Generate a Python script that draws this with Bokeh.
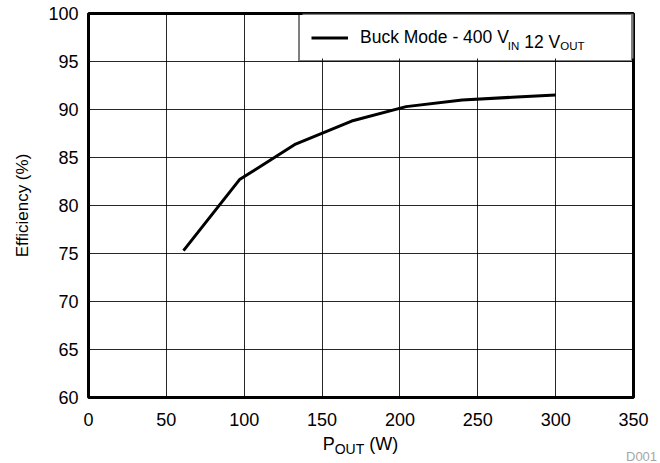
from bokeh.plotting import figure
from bokeh.models import (Legend, LegendItem, Label, Range1d, FixedTicker,
                          BoxAnnotation, Div)
from bokeh.layouts import column
from bokeh.embed import file_html
from bokeh.resources import INLINE

# ---- data ----
power_w = [61, 97, 133, 169, 204, 240, 275, 300]
efficiency_pct = [75.3, 82.7, 86.4, 88.8, 90.3, 91.0, 91.3, 91.5]
x_ticks = [0, 50, 100, 150, 200, 250, 300, 350]
y_ticks = [60, 65, 70, 75, 80, 85, 90, 95, 100]
series_main = "Buck Mode - 400 V"
series_sub1 = "IN"
series_mid = " 12 V"
series_sub2 = "OUT"
x_label_main = "P"
x_label_sub = "OUT"
x_label_tail = " (W)"
y_label = "Efficiency (%)"
doc_id = "D001"

FONT = "Liberation Sans"
# Arial / Liberation Sans advance widths (per 1000 em)
ADV = {"B": 667, "u": 556, "c": 500, "k": 500, " ": 278, "M": 833, "o": 556,
       "d": 556, "e": 556, "-": 333, "4": 556, "0": 556, "V": 667, "I": 278,
       "N": 722, "1": 556, "2": 556, "O": 778, "U": 722, "T": 611, "P": 667,
       "(": 333, "W": 944, ")": 333}


def tw(s, size):
    return sum(ADV.get(ch, 556) for ch in s) * size / 1000.0


W, H_FIG, H_DIV = 660, 433, 30
B_LEFT, B_RIGHT, B_TOP, B_BOTTOM = 88, 27, 13, 36
FRAME_W = W - B_LEFT - B_RIGHT
FRAME_H = H_FIG - B_TOP - B_BOTTOM

p = figure(width=W, height=H_FIG, output_backend="svg", toolbar_location=None,
           x_range=Range1d(x_ticks[0], x_ticks[-1]),
           y_range=Range1d(y_ticks[0], y_ticks[-1]),
           min_border_left=B_LEFT, min_border_right=B_RIGHT,
           min_border_top=B_TOP, min_border_bottom=B_BOTTOM)
p.background_fill_color = "white"
p.border_fill_color = "white"
p.outline_line_color = "black"
p.outline_line_width = 3

for ax in (p.xaxis[0], p.yaxis[0]):
    ax.axis_line_color = None
    ax.major_tick_line_color = None
    ax.minor_tick_line_color = None
    ax.major_tick_out = 0
    ax.major_tick_in = 0
    ax.minor_tick_out = 0
    ax.minor_tick_in = 0
    ax.major_label_text_font = FONT
    ax.major_label_text_font_size = "18px"
    ax.major_label_text_color = "black"

p.xaxis[0].ticker = FixedTicker(ticks=x_ticks)
p.yaxis[0].ticker = FixedTicker(ticks=y_ticks)
p.xaxis[0].major_label_standoff = 15
p.yaxis[0].major_label_standoff = 10
p.yaxis[0].axis_label = y_label
p.yaxis[0].axis_label_text_font = FONT
p.yaxis[0].axis_label_text_font_size = "17px"
p.yaxis[0].axis_label_text_font_style = "normal"
p.yaxis[0].axis_label_text_color = "black"
p.yaxis[0].axis_label_standoff = 13

p.xgrid.ticker = FixedTicker(ticks=x_ticks)
p.ygrid.ticker = FixedTicker(ticks=y_ticks)
p.xgrid.grid_line_color = "black"
p.ygrid.grid_line_color = "black"
p.xgrid.grid_line_alpha = 0.85
p.ygrid.grid_line_alpha = 0.85
p.xgrid.grid_line_width = 1
p.ygrid.grid_line_width = 1

r = p.line(power_w, efficiency_pct, line_color="black", line_width=3)

# ---- legend ----
LEG_PAD = 11
GLYPH_W = 37
STANDOFF = 12
LABEL_W = 260
ITEM_H = 23
LEG_FS = 17.5
SUB_FS = 11.5
SUB_NUDGE = -3.5
leg_w = 2 * LEG_PAD + GLYPH_W + STANDOFF + LABEL_W
leg_h = 2 * LEG_PAD + ITEM_H

# white background of the legend box (below the subscript labels)
x_span = x_ticks[-1] - x_ticks[0]
y_span = y_ticks[-1] - y_ticks[0]
p.add_layout(BoxAnnotation(left=x_ticks[-1] - leg_w * x_span / FRAME_W,
                           right=x_ticks[-1],
                           bottom=y_ticks[-1] - leg_h * y_span / FRAME_H,
                           top=y_ticks[-1],
                           fill_color="white", fill_alpha=1.0,
                           line_color=None, level="glyph"))

legend = Legend(items=[LegendItem(label=series_main, renderers=[r])],
                location="top_right", margin=0, padding=LEG_PAD,
                glyph_width=GLYPH_W, glyph_height=ITEM_H,
                label_width=LABEL_W, label_height=ITEM_H,
                label_standoff=STANDOFF,
                border_line_color="black", border_line_width=2,
                background_fill_alpha=0.0,
                label_text_font=FONT, label_text_font_size=f"{LEG_FS}px",
                label_text_color="black")
p.add_layout(legend)

text_x0 = -leg_w + LEG_PAD + GLYPH_W + STANDOFF
main_base = LEG_PAD + ITEM_H / 2 + 0.35 * LEG_FS
sub_base = main_base + 4

x_cur = text_x0 + tw(series_main, LEG_FS) + SUB_NUDGE
for txt, fs, base in ((series_sub1, SUB_FS, sub_base),
                      (series_mid, LEG_FS, main_base),
                      (series_sub2, SUB_FS, sub_base)):
    lead = tw(txt[: len(txt) - len(txt.lstrip())], fs)  # leading blanks
    p.add_layout(Label(x=x_ticks[-1], y=y_ticks[-1], x_offset=x_cur + lead,
                       y_offset=-base, text=txt.strip(), text_font=FONT,
                       text_font_size=f"{fs}px", text_color="black",
                       text_align="left", text_baseline="alphabetic"))
    x_cur += tw(txt, fs)

# ---- x axis title (with subscript) and document id, below the plot ----
XL_FS = 18
XL_SUB = 14
xl_total = tw(x_label_main, XL_FS) + tw(x_label_sub, XL_SUB) + tw(x_label_tail, XL_FS)
xl_left = B_LEFT + FRAME_W / 2 - xl_total / 2
below_html = (
    f'<div style="position:relative;width:{W}px;height:{H_DIV}px;'
    f'font-family:\'{FONT}\';overflow:hidden;">'
    f'<span style="position:absolute;left:{xl_left:.1f}px;top:2px;'
    f'font-size:{XL_FS}px;line-height:1;color:black;white-space:nowrap;">'
    f'{x_label_main}<span style="font-size:{XL_SUB}px;vertical-align:-4px;">'
    f'{x_label_sub}</span>{x_label_tail.replace(" ", "&nbsp;", 1)}</span>'
    f'<span style="position:absolute;left:626px;top:17px;font-size:13px;'
    f'line-height:1;color:#a6a6a6;white-space:nowrap;">{doc_id}</span>'
    f'</div>'
)
below = Div(text=below_html, width=W, height=H_DIV, margin=(0, 0, 0, 0))

layout = column(p, below, spacing=0)
open("out.html", "w").write(file_html(layout, INLINE))
